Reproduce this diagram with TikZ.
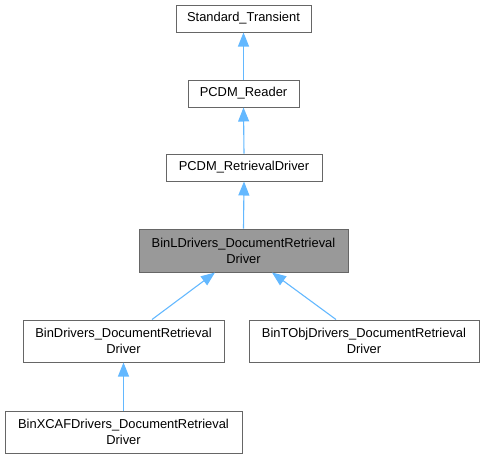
\documentclass[tikz,border=0pt]{standalone}
\usepackage{fontspec}
\setmainfont{Liberation Sans}
\usetikzlibrary{arrows.meta}
\definecolor{edgeblue}{HTML}{63B8FF}
\definecolor{boxborder}{HTML}{666666}
\definecolor{hlfill}{HTML}{999999}
\definecolor{hlborder}{HTML}{666666}
\tikzset{
  cls/.style={draw=boxborder, fill=white, line width=1pt, rectangle, inner sep=0pt,
    align=center, font=\fontsize{12.9}{16}\selectfont, text=black},
  hl/.style={cls, fill=hlfill, draw=hlborder},
  inh/.style={draw=edgeblue, line width=1.1pt,
    -{Triangle[length=14pt, width=11pt, fill=edgeblue]}},
}
\begin{document}
\begin{tikzpicture}[x=1pt, y=-1pt]
\useasboundingbox (0,0) rectangle (484,459);
\node[cls, minimum width=135pt, minimum height=27pt] (st) at (243.5,18.5) {Standard\_Transient};
\node[cls, minimum width=111pt, minimum height=27pt] (pr) at (243.5,93.5) {PCDM\_Reader};
\node[cls, minimum width=156pt, minimum height=27pt] (prd) at (244,167.5) {PCDM\_RetrievalDriver};
\node[hl, minimum width=209pt, minimum height=43pt] (bl) at (243.5,250.5) {BinLDrivers\_DocumentRetrieval\\Driver};
\node[cls, minimum width=201pt, minimum height=42pt] (bd) at (123.5,341) {BinDrivers\_DocumentRetrieval\\Driver};
\node[cls, minimum width=230pt, minimum height=42pt] (bt) at (364,341) {BinTObjDrivers\_DocumentRetrieval\\Driver};
\node[cls, minimum width=237pt, minimum height=42pt] (bx) at (123.5,432) {BinXCAFDrivers\_DocumentRetrieval\\Driver};
\draw[inh] (pr.north) -- (st.south);
\draw[inh] (prd.north) -- (pr.south);
\draw[inh] (bl.north) -- (prd.south);
\draw[inh] ([xshift=28.5pt]bd.north) -- ([xshift=-28.5pt]bl.south);
\draw[inh] ([xshift=-28pt]bt.north) -- ([xshift=28.5pt]bl.south);
\draw[inh] (bx.north) -- (bd.south);
\end{tikzpicture}
\end{document}
